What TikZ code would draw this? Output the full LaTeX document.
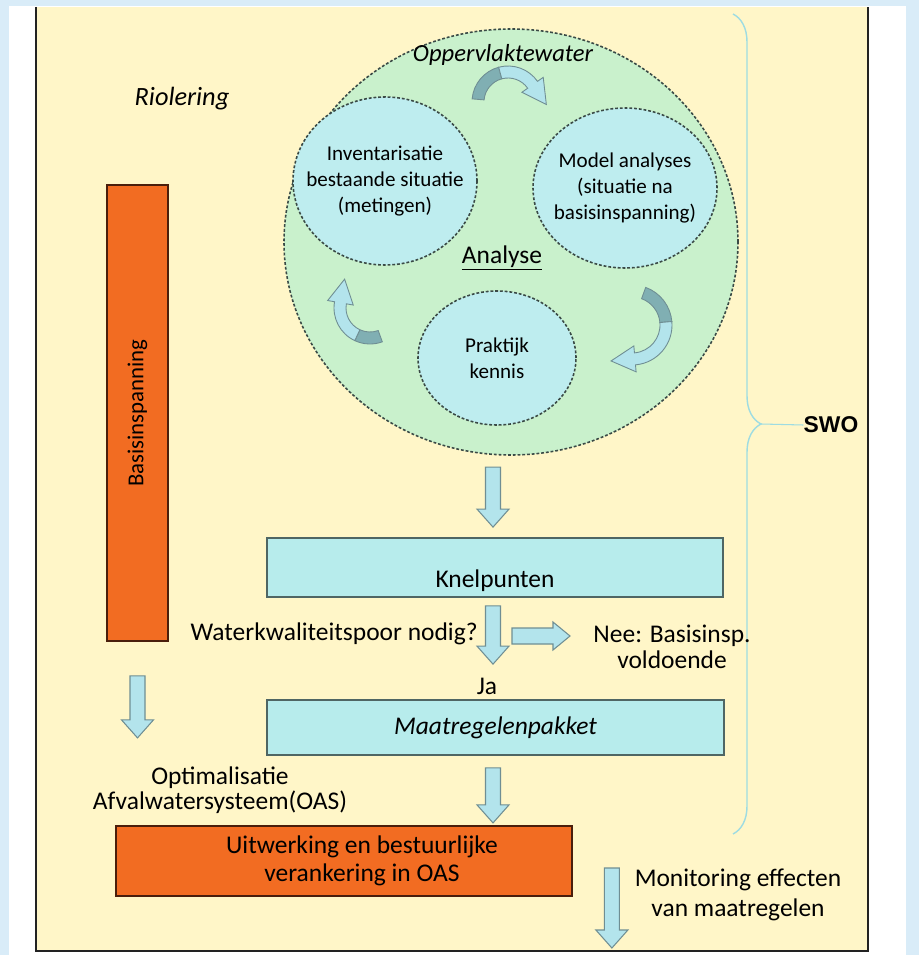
\documentclass[tikz,border=0pt]{standalone}
\usepackage{fontspec}
\setmainfont{Carlito}
\setsansfont{Liberation Sans}
\usepackage{xcolor}
\usepackage{tikz}
\usetikzlibrary{calc}
\usetikzlibrary{shapes.geometric}
\usetikzlibrary{decorations.pathreplacing}
\definecolor{skyback}{HTML}{D9ECF8}
\definecolor{cream}{HTML}{FFF6C8}
\definecolor{framecol}{HTML}{222222}
\definecolor{greenfill}{HTML}{C9F1CC}
\definecolor{ringfill}{HTML}{BEEDEF}
\definecolor{ringedge}{HTML}{3A4A46}
\definecolor{cyanfill}{HTML}{B7ECEC}
\definecolor{boxedge}{HTML}{4F6664}
\definecolor{orangefill}{HTML}{F26C22}
\definecolor{orangeedge}{HTML}{4A1E0C}
\definecolor{arrowfill}{HTML}{B3E4EC}
\definecolor{arrowedge}{HTML}{6F8E93}
\definecolor{cycdarkfill}{HTML}{80AFB3}
\definecolor{bracecol}{HTML}{9EDCE2}
\newlength\pxu
\setlength\pxu{0.02cm}
\def\blockdown#1#2{\filldraw[blockarrow] ($(#1)+(-7.5,0)$) -- ($(#2)+(-7.5,-18)$) -- ($(#2)+(-16,-18)$) -- (#2) -- ($(#2)+(16,-18)$) -- ($(#2)+(7.5,-18)$) -- ($(#1)+(7.5,0)$) -- cycle;}
\def\blockright#1#2{\filldraw[blockarrow] ($(#1)+(0,-8)$) -- ($(#2)+(-17,-8)$) -- ($(#2)+(-17,-14)$) -- (#2) -- ($(#2)+(-17,14)$) -- ($(#2)+(-17,8)$) -- ($(#1)+(0,8)$) -- cycle;}
\def\cycarrow#1#2#3#4#5#6{
	\filldraw[cycdark] ({#1+(#3+6)*cos(#4)},{#2+(#3+6)*sin(#4)}) arc[start angle=#4, end angle=#5, radius=#3+6] -- ({#1+(#3-6)*cos(#5)},{#2+(#3-6)*sin(#5)}) arc[start angle=#5, end angle=#4, radius=#3-6] -- cycle;
	\filldraw[cyclite] ({#1+(#3+6)*cos(#5)},{#2+(#3+6)*sin(#5)}) arc[start angle=#5, end angle=#6, radius=#3+6] -- ({#1+(#3+13)*cos(#6)},{#2+(#3+13)*sin(#6)}) -- ({#1+#3*cos(#6)-24*sin(#6)},{#2+#3*sin(#6)+24*cos(#6)}) -- ({#1+(#3-13)*cos(#6)},{#2+(#3-13)*sin(#6)}) -- ({#1+(#3-6)*cos(#6)},{#2+(#3-6)*sin(#6)}) arc[start angle=#6, end angle=#5, radius=#3-6] -- cycle;
	}

\begin{document}
\begin{tikzpicture}[x=0.02cm, y=-0.02cm,
	tekst/.style={font=\fontsize{14.5}{16}\selectfont, align=center, inner sep=0pt},
	kleintekst/.style={font=\fontsize{12}{15}\selectfont, align=center, inner sep=-14\pxu},
	ring/.style={ellipse, draw=ringedge, line width=0.9pt, dash pattern=on 1.6pt off 1.1pt, inner sep=0pt},
	cyanbox/.style={rectangle, draw=boxedge, fill=cyanfill, line width=1pt, inner sep=0pt},
	orangebox/.style={rectangle, draw=orangeedge, fill=orangefill, line width=1pt, inner sep=0pt},
	blockarrow/.style={fill=arrowfill, draw=arrowedge, line width=0.6pt},
	cycdark/.style={fill=cycdarkfill, draw=arrowedge, line width=0.5pt},
	cyclite/.style={fill=arrowfill, draw=arrowedge, line width=0.5pt}]
	\useasboundingbox (0,0) rectangle (919,955);
	\fill[skyback] (0,0) rectangle (919,955);
	\fill[white] (9,6) rectangle (906,955);
	\fill[cream] (37,7) rectangle (867,951);
	\draw[framecol, line width=1.4pt] (36,7) -- (36,951) -- (868,951) -- (868,7);

	\node[tekst, font=\fontsize{15}{17}\selectfont\itshape] (riool) at (182,99) {Riolering};
	\node[tekst, font=\fontsize{13}{15}\selectfont\sffamily\bfseries] (swo) at (831,425) {SWO};
	\draw[bracecol, line width=0.8pt, decorate, decoration={brace, amplitude=0.56cm}] (733,14) -- (733,834);
	\coordinate (bracetip) at (761,424);
	\draw[bracecol, line width=0.6pt] (bracetip) -- (swo.west);

	\node[ring, fill=greenfill, minimum width=454\pxu, minimum height=426\pxu] (analyse) at (511,242) {};
	\node[ring, kleintekst, fill=ringfill, minimum width=184\pxu, minimum height=168\pxu] (inv) at (385,181) {Inventarisatie\\bestaande situatie\\(metingen)};
	\node[ring, kleintekst, fill=ringfill, minimum width=184\pxu, minimum height=160\pxu] (model) at (625,188) {Model analyses\\(situatie na\\basisinspanning)};
	\node[ring, kleintekst, fill=ringfill, minimum width=158\pxu, minimum height=134\pxu] (prak) at (497,358) {Praktijk\\kennis};
	\node[tekst, font=\fontsize{14}{16}\selectfont\itshape] (opper) at (503,55) {Oppervlaktewater};
	\node[tekst] (anal) at (502,258) {\underline{Analyse}};
	\cycarrow{508}{102}{30}{185}{255}{325}
	\cycarrow{370}{308}{30}{70}{115}{190}
	\cycarrow{632}{325}{34}{-70}{-5}{85}

	\node[orangebox, rotate=90, minimum width=456\pxu, minimum height=61\pxu, font=\fontsize{13}{15}\selectfont] (basis) at (137.5,413) {Basisinspanning};
	\node[cyanbox, tekst, minimum width=456\pxu, minimum height=59\pxu, text height=42\pxu, text depth=2\pxu] (knel) at (495,567.5) {Knelpunten};
	\node[cyanbox, tekst, font=\fontsize{14.5}{16}\selectfont\itshape, minimum width=457\pxu, minimum height=55\pxu] (maat) at (495.5,727.5) {Maatregelenpakket};
	\node[orangebox, minimum width=456\pxu, minimum height=70\pxu, label={[tekst, xshift=18\pxu]center:Uitwerking en bestuurlijke\\verankering in OAS}] (uitw) at (344,861) {};
	\node[tekst, anchor=east] (vraag) at (478,634) {Waterkwaliteitspoor nodig?};
	\node[tekst, font=\fontsize{14.5}{15}\selectfont] (nee) at (672,647) {Nee: Basisinsp.\\voldoende};
	\node[tekst] (ja) at (487,686) {Ja};
	\node[tekst, font=\fontsize{14.5}{14}\selectfont] (opt) at (220,790) {Optimalisatie\\Afvalwatersysteem(OAS)};
	\node[tekst, font=\fontsize{14.5}{17}\selectfont] (moni) at (738,895) {Monitoring effecten\\van maatregelen};

	\coordinate (a1s) at ($(knel.north)+(-2,-70)$);
	\coordinate (a1e) at ($(knel.north)+(-2,-10)$);
	\coordinate (a2s) at ($(knel.south)+(-2,8)$);
	\coordinate (a2e) at ($(maat.north)+(-2.5,-35)$);
	\coordinate (a3s) at ($(vraag.east)+(34,2)$);
	\coordinate (a3e) at ($(vraag.east)+(92,2)$);
	\coordinate (a4s) at ($(maat.south)+(-2.5,12)$);
	\coordinate (a4e) at ($(maat.south)+(-2.5,67)$);
	\coordinate (a5s) at ($(basis.west)+(0,34)$);
	\coordinate (a5e) at ($(basis.west)+(0,96)$);
	\coordinate (a6s) at ($(uitw.east)+(39,7)$);
	\coordinate (a6e) at ($(uitw.east)+(39,87)$);
	\blockdown{a1s}{a1e}
	\blockdown{a2s}{a2e}
	\blockright{a3s}{a3e}
	\blockdown{a4s}{a4e}
	\blockdown{a5s}{a5e}
	\blockdown{a6s}{a6e}
\end{tikzpicture}
\end{document}
